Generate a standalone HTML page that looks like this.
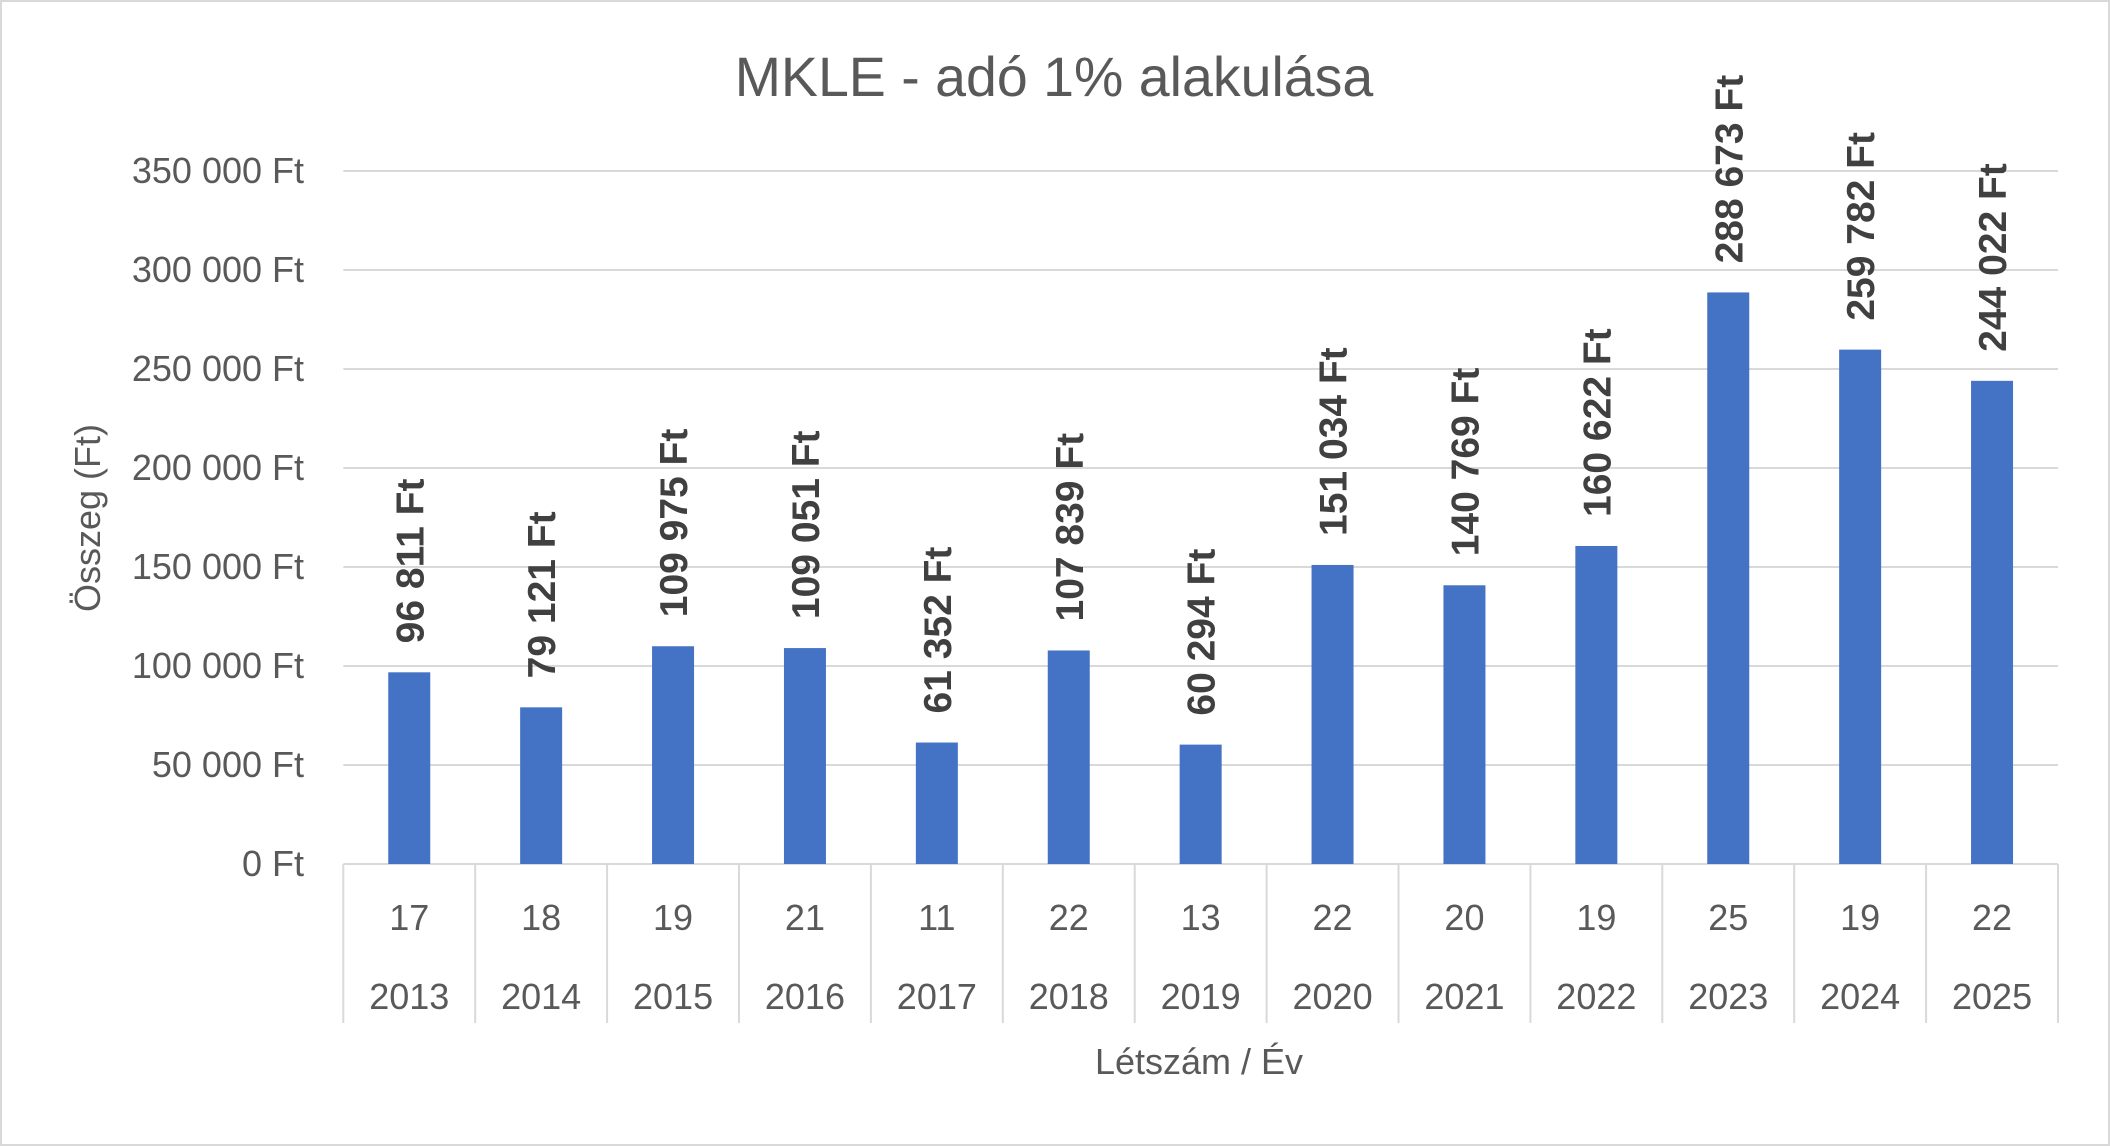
<!DOCTYPE html>
<html><head><meta charset="utf-8"><style>
html,body{margin:0;padding:0;background:#fff}
svg{display:block}
text{font-family:"Liberation Sans",sans-serif;fill:#595959}
</style></head><body>
<svg width="2110" height="1146" viewBox="0 0 2110 1146" xmlns="http://www.w3.org/2000/svg">
<rect x="1" y="1" width="2108" height="1144" fill="#fff" stroke="#d9d9d9" stroke-width="2"/>
<text x="1054" y="96" font-size="55.5" text-anchor="middle">MKLE - adó 1% alakulása</text>
<g id="grid" stroke="#d9d9d9" stroke-width="2"></g>
<g id="bars"></g>
<g id="labels"></g>
<text x="1199" y="1074" font-size="36" text-anchor="middle">Létszám / Év</text>
<text transform="translate(100,518) rotate(-90)" font-size="36" text-anchor="middle">Összeg (Ft)</text>
</svg>
<script>
const NS="http://www.w3.org/2000/svg";
const svg=document.querySelector('svg');
function el(t,a,txt,p){const e=document.createElementNS(NS,t);for(const k in a)e.setAttribute(k,a[k]);if(txt!=null)e.textContent=txt;(p||svg).appendChild(e);return e;}
const base=864,per=99.0/50000,L=343.3,cw=131.9;
const grid=document.getElementById('grid');
const ticks=["0 Ft","50 000 Ft","100 000 Ft","150 000 Ft","200 000 Ft","250 000 Ft","300 000 Ft","350 000 Ft"];
for(let i=0;i<8;i++){const y=base-i*50000*per;
 if(i>0)el('line',{x1:L,x2:L+13*cw,y1:y,y2:y},null,grid);
 el('text',{x:304,y:y+12,'font-size':36,'text-anchor':'end'},ticks[i]);}
el('line',{x1:L,x2:L+13*cw,y1:base,y2:base},null,grid);
for(let i=0;i<=13;i++){const x=L+i*cw;el('line',{x1:x,x2:x,y1:base,y2:1023},null,grid);}
const vals=[96811,79121,109975,109051,61352,107839,60294,151034,140769,160622,288673,259782,244022];
const cnt=[17,18,19,21,11,22,13,22,20,19,25,19,22];
const bars=document.getElementById('bars');
function fmt(v){return String(v).replace(/\B(?=(\d{3})+(?!\d))/g,' ')+' Ft';}
vals.forEach((v,i)=>{const cx=L+cw*(i+0.5);const h=v*per;
 el('rect',{x:cx-21,y:base-h,width:42,height:h,fill:'#4472C4'},null,bars);
 el('text',{transform:`translate(${cx+14},${base-h-29}) rotate(-90)`,'font-size':39,'font-weight':'bold',style:'fill:#404040'},fmt(v));
 el('text',{x:cx,y:930,'font-size':36,'text-anchor':'middle'},String(cnt[i]));
 el('text',{x:cx,y:1009,'font-size':36,'text-anchor':'middle'},String(2013+i));
});
</script>
</body></html>
